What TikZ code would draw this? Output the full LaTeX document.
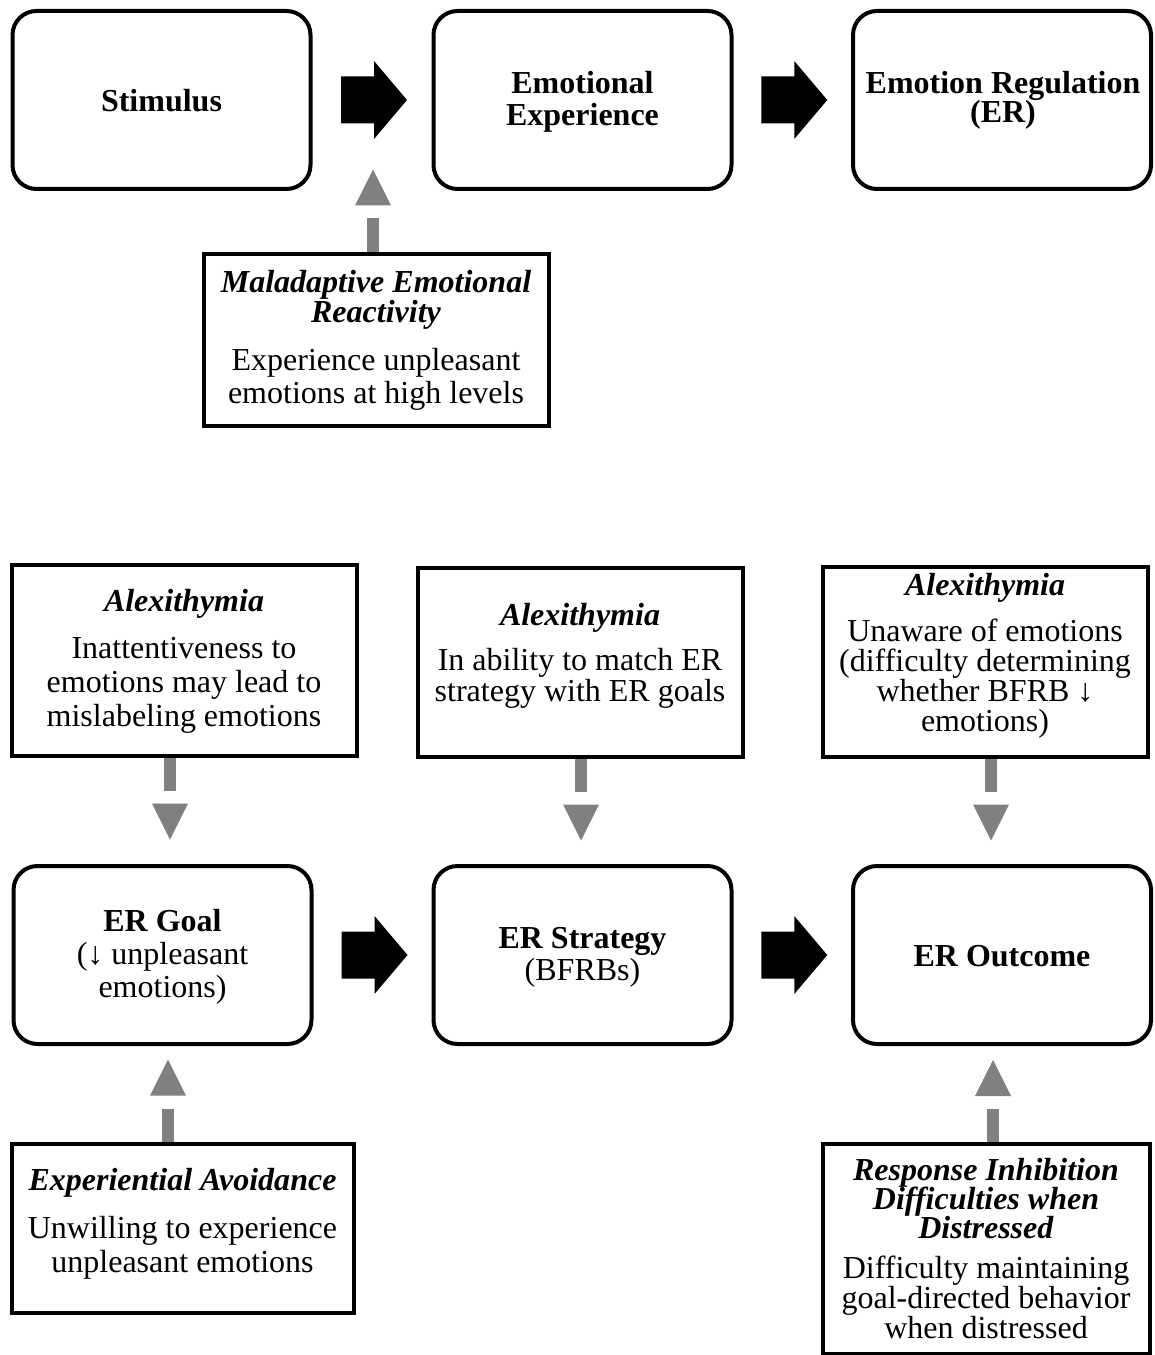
\documentclass[tikz,border=0pt]{standalone}
\usepackage{fontspec}
\setmainfont{Liberation Serif}
\usetikzlibrary{calc}
\definecolor{arrowgray}{RGB}{128,128,128}
\tikzset{
  rbox/.style={draw, line width=3pt, rounded corners=18pt, inner sep=0pt, minimum width=223.5pt, minimum height=133.5pt},
  sbox/.style={draw, line width=3pt, inner sep=0pt},
  txt/.style={align=center, inner sep=0pt, font=\fontsize{24}{24}\selectfont},
  pics/grayarrow/.style={code={
    \fill[arrowgray] (-6,0) rectangle (6,33);
    \fill[arrowgray] (-18,46) -- (18,46) -- (0,82) -- cycle;
  }},
  pics/blockarrow/.style={code={
    \fill[black] (-33,-23.5) -- (0,-23.5) -- (0,-39) -- (33,0) -- (0,39) -- (0,23.5) -- (-33,23.5) -- cycle;
  }}
}
\begin{document}
\begin{tikzpicture}[x=0.75pt,y=-0.75pt]
\useasboundingbox (0,0) rectangle (1154,1355);
% top row
\node[rbox] (stim) at (161.5,100) {};
\node[rbox] (ee) at (582.5,100) {};
\node[rbox] (erreg) at (1002,100) {};
\node[txt] (stimt) at (161.5,101) {\textbf{Stimulus}};
\node[txt] (eet) at (582.5,102) {\textbf{Emotional}\\\textbf{Experience}};
\node[txt] (erregt) at (1003,100) {\textbf{Emotion Regulation}\\[-2pt]\textbf{(ER)}};
% black arrows top
\coordinate (a1) at ($(stim.east)!0.5!(ee.west)+(2,0)$);
\coordinate (a2) at ($(ee.east)!0.5!(erreg.west)+(2,0)$);
\pic at (a1) {blockarrow};
\pic at (a2) {blockarrow};
% maladaptive
\node[sbox, minimum width=258.75pt, minimum height=129pt] (mal) at (376,339.5) {};
\node[txt] (malt) at (376,340) {\textbf{\textit{Maladaptive Emotional}}\\[-1.5pt]\textbf{\textit{Reactivity}}\\[12pt]Experience unpleasant\\[0.75pt]emotions at high levels};
\pic[rotate=180] at ($(mal.north)+(-3,0)$) {grayarrow};
% alexithymia boxes
\node[sbox, minimum width=258.75pt, minimum height=143.25pt] (alexa) at (184,660) {};
\node[txt] (alexat) at (184,661) {\textbf{\textit{Alexithymia}}\\[11.25pt]Inattentiveness to\\[1.5pt]emotions may lead to\\[1.5pt]mislabeling emotions};
\node[sbox, minimum width=243.75pt, minimum height=141.75pt] (alexb) at (580,662) {};
\node[txt] (alexbt) at (580,656) {\textbf{\textit{Alexithymia}}\\[9.75pt]In ability to match ER\\[-0.75pt]strategy with ER goals};
\node[sbox, minimum width=243.75pt, minimum height=142.5pt] (alexc) at (985,661.5) {};
\node[txt] (alexct) at (985,656) {\textbf{\textit{Alexithymia}}\\[10.5pt]Unaware of emotions\\[-1.5pt](difficulty determining\\[-1.5pt]whether BFRB ↓\\[-1.5pt]emotions)};
% middle row
\node[rbox] (goal) at (162.5,955) {};
\node[rbox] (strat) at (582.5,955) {};
\node[rbox] (out) at (1002,955) {};
\node[txt] (goalt) at (162.5,957) {\textbf{ER Goal}\\[0.75pt](↓ unpleasant\\[0.75pt]emotions)};
\node[txt] (stratt) at (582.5,957) {\textbf{ER Strategy}\\(BFRBs)};
\node[txt] (outt) at (1002,956) {\textbf{ER Outcome}};
\coordinate (b1) at ($(goal.east)!0.5!(strat.west)+(2,0)$);
\coordinate (b2) at ($(strat.east)!0.5!(out.west)+(2,0)$);
\pic at (b1) {blockarrow};
\pic at (b2) {blockarrow};
% gray arrows down
\pic at ($(alexa.south)+(-14,0)$) {grayarrow};
\pic at ($(alexb.south)+(1,0)$) {grayarrow};
\pic at ($(alexc.south)+(6,0)$) {grayarrow};
% bottom boxes
\node[sbox, minimum width=256.5pt, minimum height=126.75pt] (ea) at (182.5,1228) {};
\node[txt] (eat) at (182.5,1224) {\textbf{\textit{Experiential Avoidance}}\\[12pt]Unwilling to experience\\[1.5pt]unpleasant emotions};
\node[sbox, minimum width=245.25pt, minimum height=157.5pt] (ri) at (986,1249) {};
\node[txt] (rit) at (986,1249) {\textbf{\textit{Response Inhibition}}\\[-2.25pt]\textbf{\textit{Difficulties when}}\\[-2.25pt]\textbf{\textit{Distressed}}\\[6pt]Difficulty maintaining\\[-1.5pt]goal-directed behavior\\[-1.5pt]when distressed};
\pic[rotate=180] at ($(ea.north)+(-14.5,0)$) {grayarrow};
\pic[rotate=180] at ($(ri.north)+(7,0)$) {grayarrow};
\end{tikzpicture}
\end{document}
